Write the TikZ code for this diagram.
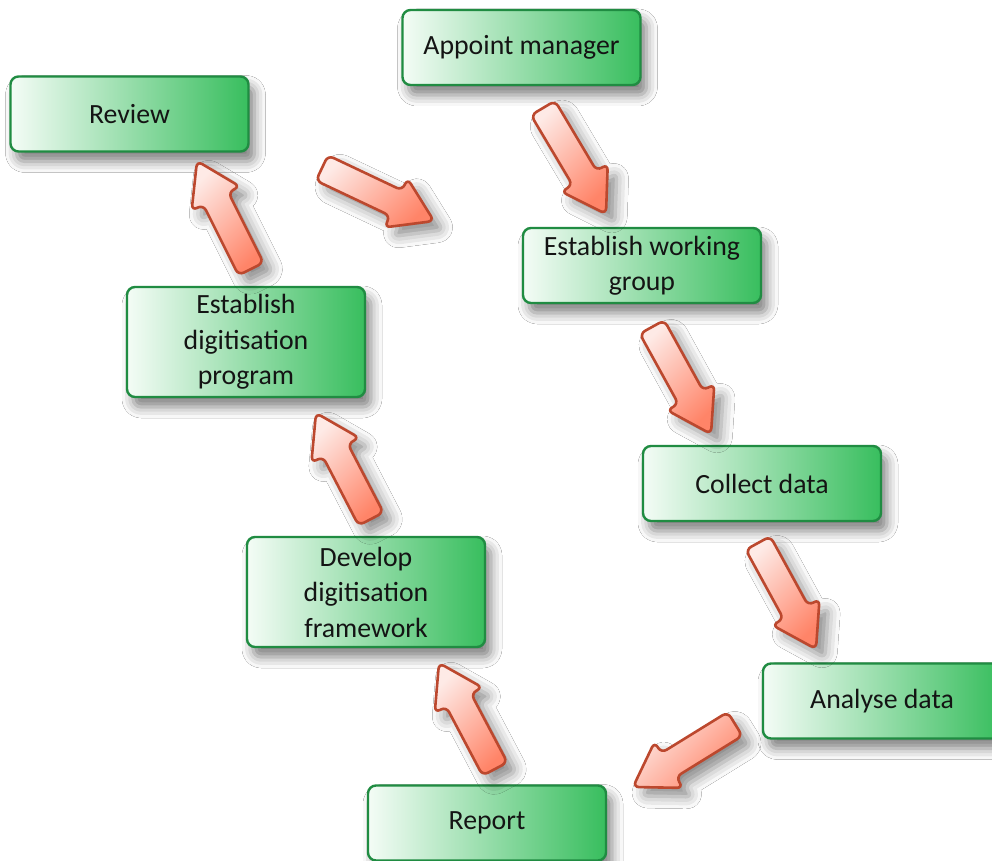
\documentclass[tikz,border=0pt]{standalone}
\usepackage{fontspec}
\setmainfont{Carlito}
\usetikzlibrary{calc,shadows.blur}

\definecolor{boxlight}{RGB}{244,252,246}
\definecolor{boxmid}{RGB}{150,221,166}
\definecolor{boxdark}{RGB}{56,190,94}
\definecolor{boxedge}{RGB}{32,140,66}
\definecolor{arrowlight}{RGB}{254,234,230}
\definecolor{arrowdark}{RGB}{255,132,104}
\definecolor{arrowedge}{RGB}{188,72,46}

% block arrow from tail (t#1) to tip (h#1); base of the head is (b#1)
\newcommand\blockarrow[1]{%
  \coordinate (b#1) at ($(h#1)!21pt!(t#1)$);
  \path[arrowbody]
    ($(t#1)!7pt!90:(h#1)$) -- ($(b#1)!7pt!-90:(t#1)$)
    -- ($(b#1)!13.5pt!-90:(t#1)$) -- (h#1)
    -- ($(b#1)!13.5pt!90:(t#1)$) -- ($(b#1)!7pt!90:(t#1)$)
    -- ($(t#1)!7pt!-90:(h#1)$) -- cycle;
}

\begin{document}
\begin{tikzpicture}[x=0.5pt,y=-0.5pt,
  stepbox/.style={draw=boxedge, line width=1.2pt, rounded corners=4pt,
    left color=boxlight, middle color=boxmid, right color=boxdark,
    minimum width=119pt, minimum height=37.5pt, inner sep=0pt,
    align=center, text=black!92,
    font=\fontsize{13.9}{17.75}\selectfont,
    blur shadow={shadow xshift=3pt, shadow yshift=-5pt,
      shadow blur radius=5.5pt, shadow opacity=50}},
  tallbox/.style={stepbox, minimum height=55pt},
  arrowbody/.style={draw=arrowedge, line width=1.3pt, rounded corners=3pt,
    top color=arrowlight, bottom color=arrowdark, shading angle=45,
    blur shadow={shadow xshift=4.5pt, shadow yshift=-4.5pt,
      shadow blur radius=6pt, shadow opacity=45}}
]
\fill[white] (0,0) rectangle (992,861);
\useasboundingbox (0,0) rectangle (992,861);

% process steps
\node[stepbox] (appoint)   at (521.5,47.5) {Appoint manager};
\node[stepbox] (review)    at (129.5,114)  {Review};
\node[stepbox] (working)   at (642,265.5)  {Establish working\\group};
\node[tallbox] (program)   at (246,342)    {Establish\\digitisation\\program};
\node[stepbox] (collect)   at (762,483.5)  {Collect data};
\node[tallbox] (framework) at (366,592)    {Develop\\digitisation\\framework};
\node[stepbox] (analyse)   at (882,701)    {Analyse data};
\node[stepbox] (report)    at (487,823)    {Report};

% arrow tails and tips
\coordinate (t1) at (543,108); \coordinate (h1) at (606,214);
\coordinate (t2) at (652,327); \coordinate (h2) at (711,434);
\coordinate (t3) at (758,543); \coordinate (h3) at (816,649);
\coordinate (t4) at (735,724); \coordinate (h4) at (633,787);
\coordinate (t5) at (495,769); \coordinate (h5) at (439,663);
\coordinate (t6) at (371,519); \coordinate (h6) at (316,413);
\coordinate (t7) at (251,269); \coordinate (h7) at (197,161);
\coordinate (t8) at (322,168); \coordinate (h8) at (434,221);

\foreach \k in {1,...,8} {\blockarrow{\k}}
\end{tikzpicture}
\end{document}
